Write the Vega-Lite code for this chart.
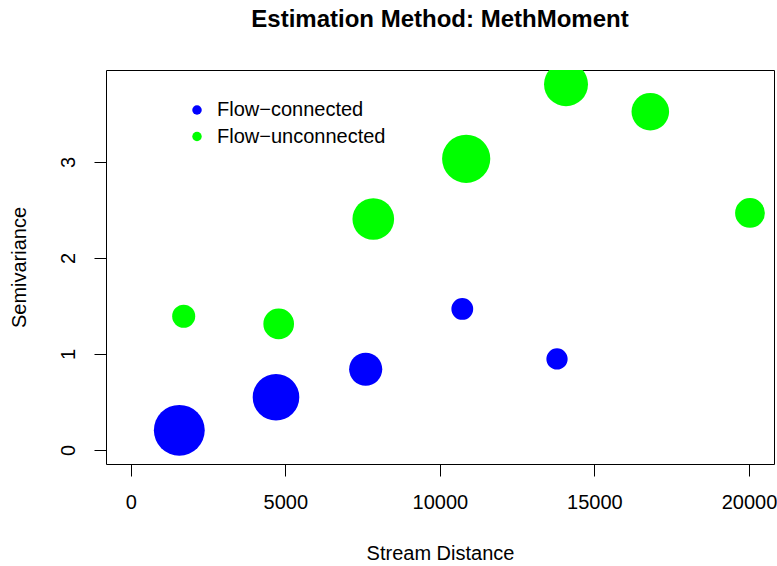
{
  "$schema": "https://vega.github.io/schema/vega-lite/v6.json",
  "autosize": {"type": "none"},
  "padding": {"left": 106, "top": 70, "right": 3, "bottom": 102},
  "width": 668,
  "height": 394,
  "background": "white",
  "title": {
    "text": "Estimation Method: MethMoment",
    "font": "Liberation Sans",
    "fontSize": 24,
    "fontWeight": "bold",
    "color": "black",
    "anchor": "middle",
    "baseline": "alphabetic",
    "offset": 19.2
  },
  "config": {
    "view": {"stroke": "black", "strokeWidth": 1},
    "axis": {
      "grid": false,
      "domain": false,
      "tickColor": "black",
      "tickWidth": 1,
      "tickSize": 12,
      "labelFont": "Liberation Sans",
      "labelFontSize": 20,
      "labelColor": "black",
      "titleFont": "Liberation Sans",
      "titleFontSize": 20,
      "titleFontWeight": "normal",
      "titleColor": "black"
    }
  },
  "data": {
    "values": [
      {"type": "Flow−connected", "dist": 1572, "gamma": 0.205, "np": 287},
      {"type": "Flow−connected", "dist": 4700, "gamma": 0.549, "np": 263},
      {"type": "Flow−connected", "dist": 7601, "gamma": 0.841, "np": 187},
      {"type": "Flow−connected", "dist": 10726, "gamma": 1.469, "np": 123},
      {"type": "Flow−connected", "dist": 13790, "gamma": 0.948, "np": 120},
      {"type": "Flow−unconnected", "dist": 1714, "gamma": 1.393, "np": 130},
      {"type": "Flow−unconnected", "dist": 4787, "gamma": 1.313, "np": 173},
      {"type": "Flow−unconnected", "dist": 7847, "gamma": 2.406, "np": 235},
      {"type": "Flow−unconnected", "dist": 10852, "gamma": 3.033, "np": 272},
      {"type": "Flow−unconnected", "dist": 14081, "gamma": 3.809, "np": 248},
      {"type": "Flow−unconnected", "dist": 16808, "gamma": 3.524, "np": 212},
      {"type": "Flow−unconnected", "dist": 20032, "gamma": 2.469, "np": 168}
    ]
  },
  "mark": {"type": "circle", "opacity": 1, "clip": true},
  "encoding": {
    "x": {
      "field": "dist",
      "type": "quantitative",
      "scale": {"domain": [-799, 20809], "nice": false, "zero": false},
      "axis": {
        "values": [0, 5000, 10000, 15000, 20000],
        "format": "d",
        "labelPadding": 16,
        "labelFlush": false,
        "labelOverlap": false,
        "title": "Stream Distance",
        "titleX": 334,
        "titleY": 95.5,
        "titleBaseline": "alphabetic",
        "titleAlign": "center"
      }
    },
    "y": {
      "field": "gamma",
      "type": "quantitative",
      "scale": {"domain": [-0.1458, 3.958], "nice": false, "zero": false},
      "axis": {
        "values": [0, 1, 2, 3],
        "labelAngle": -90,
        "labelAlign": "center",
        "labelBaseline": "alphabetic",
        "labelPadding": 20,
        "labelFlush": false,
        "labelOverlap": false,
        "title": "Semivariance",
        "titleAngle": -90,
        "titleX": -80.5,
        "titleY": 197,
        "titleBaseline": "alphabetic",
        "titleAlign": "center"
      }
    },
    "color": {
      "field": "type",
      "type": "nominal",
      "scale": {"domain": ["Flow−connected", "Flow−unconnected"], "range": ["#0000ff", "#00ff00"]},
      "legend": {
        "title": null,
        "orient": "none",
        "legendX": 81,
        "legendY": 30,
        "padding": 0,
        "symbolType": "circle",
        "symbolSize": 90,
        "symbolStrokeWidth": 0,
        "symbolOpacity": 1,
        "labelFont": "Liberation Sans",
        "labelFontSize": 20,
        "labelColor": "black",
        "labelLimit": 400,
        "labelOffset": 10,
        "rowPadding": 6.5
      }
    },
    "size": {
      "field": "np",
      "type": "quantitative",
      "scale": {"type": "pow", "exponent": 2, "domain": [0, 300], "range": [0, 2827.43]},
      "legend": null
    }
  }
}
